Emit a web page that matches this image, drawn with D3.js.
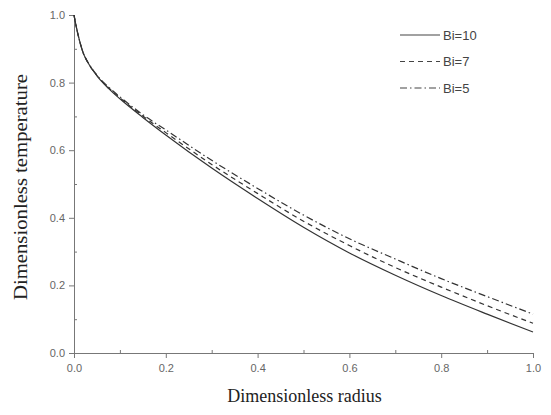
<!DOCTYPE html>
<html>
<head>
<meta charset="utf-8">
<script src="https://cdn.jsdelivr.net/npm/d3@7"></script>
<style>
  body { margin: 0; background: #fff; }
  .axis path, .axis line { stroke: #777; }
  .axis text { fill: #666; font-family: "Liberation Sans", Arial, sans-serif; font-size: 11px; }
</style>
</head>
<body>
<div id="viz"></div>
<script>
var radius = [0, 0.005, 0.01, 0.02, 0.03, 0.05, 0.075, 0.1, 0.15, 0.2, 0.3, 0.4, 0.5, 0.6, 0.7, 0.8, 0.9, 1.0];

// dimensionless temperature for each Biot number
var bi10 = [1.0, 0.965, 0.935, 0.888, 0.86, 0.82, 0.783, 0.752, 0.697, 0.645, 0.547, 0.457, 0.372, 0.296, 0.23, 0.17, 0.115, 0.062];
var bi7  = [1.0, 0.965, 0.935, 0.888, 0.86, 0.821, 0.785, 0.755, 0.701, 0.652, 0.558, 0.472, 0.39, 0.318, 0.253, 0.195, 0.14, 0.088];
var bi5  = [1.0, 0.965, 0.935, 0.888, 0.861, 0.822, 0.787, 0.758, 0.705, 0.66, 0.57, 0.487, 0.408, 0.338, 0.278, 0.22, 0.167, 0.115];

var seriesNames = ['Bi=10', 'Bi=7', 'Bi=5'];
var xTicks = [0, 0.2, 0.4, 0.6, 0.8, 1.0];
var yTicks = [0, 0.2, 0.4, 0.6, 0.8, 1.0];

var width = 551, height = 415;
var margin = {left: 74, top: 15, right: 18, bottom: 62};
var plotW = width - margin.left - margin.right;
var plotH = height - margin.top - margin.bottom;

var svg = d3.select('#viz').append('svg')
  .attr('width', width)
  .attr('height', height);

var g = svg.append('g')
  .attr('transform', 'translate(' + margin.left + ',' + margin.top + ')');

var x = d3.scaleLinear().domain([0, 1]).range([0, plotW]);
var y = d3.scaleLinear().domain([0, 1]).range([plotH, 0]);

// minor ticks first, inside the plot
g.append('g')
  .attr('class', 'axis')
  .attr('transform', 'translate(0,' + plotH + ')')
  .call(d3.axisTop(x).tickValues([0.1, 0.3, 0.5, 0.7, 0.9]).tickSize(3).tickFormat(''))
  .select('.domain').remove();
g.append('g')
  .attr('class', 'axis')
  .call(d3.axisRight(y).tickValues([0.1, 0.3, 0.5, 0.7, 0.9]).tickSize(3).tickFormat(''))
  .select('.domain').remove();

// main axes
g.append('g')
  .attr('class', 'axis')
  .attr('transform', 'translate(0,' + plotH + ')')
  .call(d3.axisBottom(x).tickValues(xTicks).tickSize(5).tickSizeOuter(0).tickPadding(6).tickFormat(d3.format('.1f')));

g.append('g')
  .attr('class', 'axis')
  .call(d3.axisLeft(y).tickValues(yTicks).tickSize(5).tickSizeOuter(0).tickPadding(4).tickFormat(d3.format('.1f')));

// curves
var dashes = [null, '5,4', '7,3,1.5,3'];
var allSeries = [bi10, bi7, bi5];

var line = d3.line()
  .x(function (d, i) { return x(radius[i]); })
  .y(function (d) { return y(d); })
  .curve(d3.curveMonotoneX);

g.selectAll('.curve')
  .data(allSeries)
  .enter()
  .append('path')
  .attr('class', 'curve')
  .attr('d', line)
  .attr('fill', 'none')
  .attr('stroke', '#333')
  .attr('stroke-width', 1.2)
  .attr('stroke-dasharray', function (d, i) { return dashes[i]; });

// legend
var legend = svg.append('g').attr('transform', 'translate(400,35)');
seriesNames.forEach(function (name, i) {
  var row = legend.append('g').attr('transform', 'translate(0,' + (i * 26.5) + ')');
  row.append('line')
    .attr('x1', 0).attr('x2', 40)
    .attr('stroke', '#444')
    .attr('stroke-width', 1.1)
    .attr('stroke-dasharray', dashes[i]);
  row.append('text')
    .attr('x', 43).attr('y', 4.5)
    .attr('fill', '#444')
    .style('font-family', '"Liberation Sans", Arial, sans-serif')
    .style('font-size', '13px')
    .text(name);
});

// axis titles
svg.append('text')
  .attr('x', margin.left + plotW / 2 + 1)
  .attr('y', 402)
  .attr('text-anchor', 'middle')
  .attr('fill', '#222')
  .style('font-family', '"Liberation Serif", "Times New Roman", serif')
  .style('font-size', '18px')
  .text('Dimensionless radius');

svg.append('text')
  .attr('transform', 'translate(27,187) rotate(-90)')
  .attr('text-anchor', 'middle')
  .attr('fill', '#222')
  .style('font-family', '"Liberation Serif", "Times New Roman", serif')
  .style('font-size', '18px')
  .attr('textLength', 226)
  .attr('lengthAdjust', 'spacingAndGlyphs')
  .text('Dimensionless temperature');
</script>
</body>
</html>
